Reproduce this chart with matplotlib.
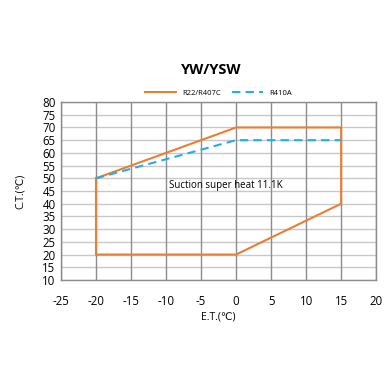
"""Operating envelope chart for YW/YSW compressors."""

import matplotlib
matplotlib.use("Agg")
import matplotlib.pyplot as plt

plt.rcParams["font.family"] = ["Open Sans", "DejaVu Sans"]
plt.rcParams["axes.unicode_minus"] = False

# Envelope data (E.T. in degC, C.T. in degC)
r22_et = [-20, 0, 15, 15, 0, -20, -20]
r22_ct = [50, 70, 70, 40, 20, 20, 50]
r410_et = [-20, 0, 15]
r410_ct = [50, 65, 65]

x_ticks = list(range(-25, 21, 5))
y_ticks = list(range(10, 81, 5))

ORANGE = "#ED7D31"
BLUE = "#23AEEA"

fig = plt.figure(figsize=(3.91, 3.91), dpi=100)
ax = fig.add_axes([0.156, 0.284, 0.806, 0.455])

ax.plot(r22_et, r22_ct, color=ORANGE, lw=1.5, label="R22/R407C", zorder=3)
ax.plot(r410_et, r410_ct, color=BLUE, lw=1.5, ls=(0, (4, 2.5)), label="R410A", zorder=3)

ax.set_xlim(-25, 20)
ax.set_ylim(10, 80)
ax.set_xticks(x_ticks)
ax.set_yticks(y_ticks)
ax.tick_params(length=0, labelsize=8.3, pad=4)
ax.tick_params(axis="x", pad=11)

for y in y_ticks:
    ax.axhline(y, color="#c8c8c8", lw=1.0, zorder=1)
for x in x_ticks:
    ax.axvline(x, color="#8c8c8c", lw=1.0, zorder=1)
for side in ["top", "right", "left", "bottom"]:
    ax.spines[side].set_color("#8c8c8c")
    ax.spines[side].set_linewidth(1.0)

ax.text(-9.6, 47.3, "Suction super heat 11.1K", fontsize=7, va="center", zorder=4)

ax.set_xlabel("E.T.(℃)", fontsize=7.5, labelpad=2)
ax.set_ylabel("C.T.(℃)", fontsize=7.5, labelpad=12)

fig.text(0.54, 0.82, "YW/YSW", fontsize=10.5, fontweight="bold", ha="center", va="center")
ax.legend(loc="lower center", bbox_to_anchor=(0.5, 1.0), ncol=2, frameon=False,
          fontsize=5.5, handlelength=4, columnspacing=1.5, borderaxespad=0.3)

fig.savefig("out.png", dpi=100, facecolor="white")
